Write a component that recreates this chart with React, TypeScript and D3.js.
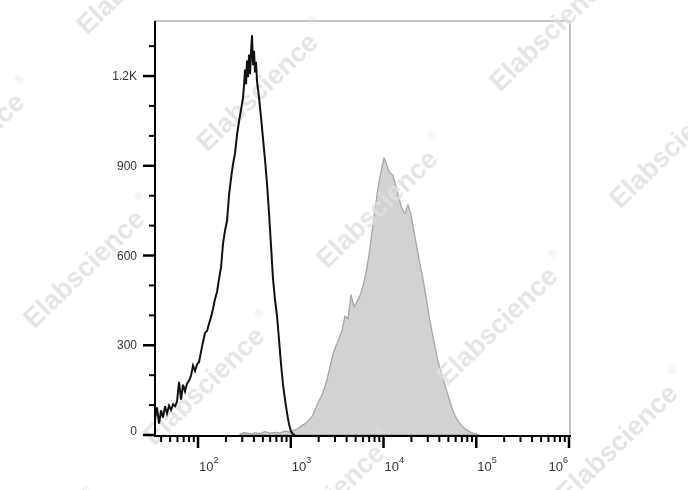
import React from 'react';
import * as d3 from 'd3';

// Unstained / isotype control histogram (black outline)
const blackX = [34.4, 36.1, 38.0, 39.9, 41.9, 44.1, 46.3, 48.7, 51.2, 53.8, 56.5, 59.4, 62.4, 65.6, 68.9, 72.4, 76.1, 80.0, 84.0, 88.3, 92.8, 97.5, 102.5, 107.7, 113.2, 119.0, 125.0, 131.4, 138.1, 145.1, 152.5, 160.3, 168.4, 177.0, 186.0, 195.5, 205.5, 215.9, 226.9, 238.5, 250.6, 263.4, 276.7, 290.9, 305.7, 313.3, 321.2, 329.3, 337.6, 346.1, 354.8, 363.6, 372.8, 382.0, 391.8, 401.7, 411.7, 421.9, 432.7, 454.7, 477.8, 502.1, 527.7, 554.5, 582.8, 612.4, 643.6, 676.3, 710.7, 746.9, 784.9, 824.8, 866.7, 910.8, 957.4, 1006, 1057, 1111];
const blackCount = [55, 92, 38, 82, 58, 96, 72, 98, 84, 102, 96, 112, 178, 118, 168, 146, 172, 182, 198, 232, 214, 236, 244, 278, 312, 342, 348, 372, 394, 422, 455, 478, 522, 560, 640, 684, 716, 802, 858, 906, 942, 1004, 1048, 1088, 1128, 1170, 1222, 1172, 1252, 1196, 1272, 1206, 1282, 1336, 1236, 1284, 1212, 1248, 1182, 1128, 1062, 990, 920, 840, 742, 632, 522, 452, 398, 318, 238, 168, 118, 74, 36, 12, 3, 0];

// Stained sample histogram (gray filled)
const grayX = [283.8, 321.2, 363.6, 411.7, 466.1, 527.7, 597.5, 676.3, 765.9, 866.7, 981.6, 1084, 1168, 1258, 1356, 1460, 1573, 1695, 1826, 1967, 2119, 2283, 2459, 2650, 2854, 3075, 3313, 3569, 3845, 4142, 4463, 4807, 5180, 5580, 6012, 6476, 6977, 7516, 8098, 8724, 9398, 10125, 10641, 11180, 11750, 12659, 13640, 14694, 15833, 17055, 18377, 19796, 21322, 22976, 24748, 26666, 28722, 30948, 33335, 35919, 38690, 41678, 44909, 48373, 52119, 56140, 60491, 65163, 70215, 75633, 81495, 87782, 94560, 101880, 109740];
const grayCount = [4, 9, 3, 7, 5, 11, 6, 9, 7, 13, 10, 16, 20, 27, 34, 40, 50, 62, 84, 108, 128, 152, 186, 228, 272, 298, 322, 350, 398, 388, 468, 428, 446, 466, 498, 542, 602, 678, 752, 828, 880, 926, 912, 888, 876, 868, 830, 790, 756, 740, 770, 735, 680, 625, 570, 520, 462, 398, 346, 294, 246, 210, 176, 145, 112, 80, 58, 42, 30, 21, 14, 9, 5, 2, 0];

const yMajorTicks = [0, 300, 600, 900, 1200];
const yTickLabels = ['0', '300', '600', '900', '1.2K'];
const yMinorTicks = [100, 200, 400, 500, 700, 800, 1000, 1100, 1300];
const xMajorTicks = [1e2, 1e3, 1e4, 1e5, 1e6];
const xTickExponents = ['2', '3', '4', '5', '6'];
const watermarkText = 'Elabscience';

export default function App() {
  const W = 688;
  const H = 490;
  const left = 155, right = 569, top = 21, bottom = 435;
  const x = d3.scaleLog().domain([Math.pow(10, 1.536), 1e6]).range([left, right]);
  const y = d3.scaleLinear().domain([0, 1384]).range([bottom, top]);

  const blackData = blackX.map((v, i) => [v, blackCount[i]] as [number, number]);
  const grayData = grayX.map((v, i) => [v, grayCount[i]] as [number, number]);

  const line = d3.line<[number, number]>().x(d => x(d[0])).y(d => y(d[1]));
  const area = d3.area<[number, number]>().x(d => x(d[0])).y0(y(0)).y1(d => y(d[1]));

  const xMinor: number[] = [];
  for (let k = 1; k <= 5; k++) {
    for (let m = 2; m <= 9; m++) {
      const v = m * Math.pow(10, k);
      if (v >= x.domain()[0] && v <= 1e6) xMinor.push(v);
    }
  }

  const marks: { cx: number; cy: number }[] = [];
  for (let i = -4; i <= 4; i++) {
    for (let j = -4; j <= 4; j++) {
      const cx = 257 + 120 * i + 173 * j;
      const cy = 92 + 117 * i - 177 * j;
      if (cx > -120 && cx < W + 120 && cy > -120 && cy < H + 120) marks.push({ cx, cy });
    }
  }

  const font = 'Arial, "Liberation Sans", Helvetica, sans-serif';

  return (
    <svg width={W} height={H} style={{ position: 'absolute', left: 0, top: 0, background: '#fff' }}>
      <rect x={0} y={0} width={W} height={H} fill="#fff" />
      {/* frame */}
      <line x1={left} x2={right + 1} y1={top} y2={top} stroke="#b0b0b0" strokeWidth={1.5} />
      <line x1={right + 1} x2={right + 1} y1={top} y2={bottom} stroke="#b0b0b0" strokeWidth={1.5} />

      {/* gray filled histogram */}
      <path d={area(grayData) || ''} fill="#d2d2d2" stroke="#a6a6a6" strokeWidth={1.3} strokeLinejoin="round" />

      {/* watermark */}
      <g fontFamily={font} fontWeight="bold" fill="#e0e0e0" opacity={0.85}>
        {marks.map((m, i) => (
          <g key={i} transform={`translate(${m.cx},${m.cy}) rotate(-44)`}>
            <text x={0} y={0} textAnchor="middle" dominantBaseline="central" fontSize={27}>
              {watermarkText}
            </text>
            <text x={86} y={-14} textAnchor="start" dominantBaseline="central" fontSize={11} fontWeight="normal">
              ®
            </text>
          </g>
        ))}
      </g>

      {/* black histogram */}
      <path d={line(blackData) || ''} fill="none" stroke="#111" strokeWidth={2} strokeLinejoin="miter" />

      {/* axes */}
      <line x1={left} x2={left} y1={top} y2={bottom + 1} stroke="#000" strokeWidth={2} />
      <line x1={left - 1} x2={right + 2} y1={bottom + 1} y2={bottom + 1} stroke="#000" strokeWidth={2} />

      {/* y ticks */}
      {yMajorTicks.map((t, i) => (
        <g key={'ym' + t}>
          <line x1={left - 12} x2={left} y1={y(t)} y2={y(t)} stroke="#000" strokeWidth={2.5} />
          <text x={137} y={y(t) - (t === 0 ? 4 : 0)} textAnchor="end" dominantBaseline="central" fontFamily={font} fontSize={12} fill="#333">
            {yTickLabels[i]}
          </text>
        </g>
      ))}
      {yMinorTicks.map(t => (
        <line key={'yn' + t} x1={left - 6} x2={left} y1={y(t)} y2={y(t)} stroke="#000" strokeWidth={2} />
      ))}

      {/* x ticks */}
      {xMinor.map(t => (
        <line key={'xn' + t} x1={x(t)} x2={x(t)} y1={bottom + 1} y2={bottom + 7} stroke="#000" strokeWidth={2} />
      ))}
      {xMajorTicks.map((t, i) => {
        const px = x(t);
        const last = i === xMajorTicks.length - 1;
        return (
          <g key={'xm' + t}>
            <line x1={px} x2={px} y1={bottom + 1} y2={bottom + 13} stroke="#000" strokeWidth={2.5} />
            <text x={last ? px - 1 : px + 1} y={471} textAnchor={last ? 'end' : 'start'} fontFamily={font} fontSize={13} fill="#333">
              10
              <tspan dy={-8} fontSize={9}>{xTickExponents[i]}</tspan>
            </text>
          </g>
        );
      })}
    </svg>
  );
}
